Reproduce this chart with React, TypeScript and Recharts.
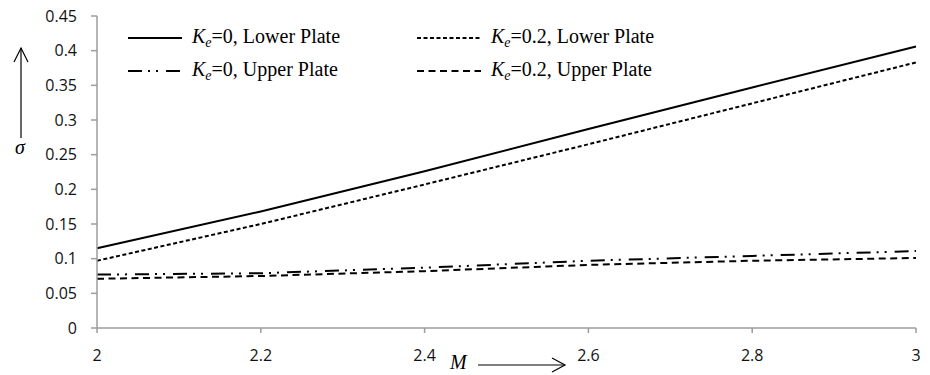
import { LineChart, Line, XAxis, YAxis, Legend } from "recharts";

// M values along the x axis
const mValues = [2, 2.2, 2.4, 2.6, 2.8, 3];

// sigma
const lowerKe0 = [0.115, 0.168, 0.226, 0.287, 0.347, 0.406];
const lowerKe02 = [0.097, 0.15, 0.207, 0.265, 0.324, 0.383];
const upperKe0 = [0.077, 0.079, 0.087, 0.097, 0.104, 0.111];
const upperKe02 = [0.071, 0.075, 0.082, 0.091, 0.097, 0.101];

const xTicks = [2, 2.2, 2.4, 2.6, 2.8, 3];
const yTicks = [0, 0.05, 0.1, 0.15, 0.2, 0.25, 0.3, 0.35, 0.4, 0.45];

const series = [
  { key: "lower0", ke: "0", plate: "Lower Plate", dash: undefined as string | undefined },
  { key: "lower02", ke: "0.2", plate: "Lower Plate", dash: "4 2.5" },
  { key: "upper0", ke: "0", plate: "Upper Plate", dash: "14 6 2 6 2 8" },
  { key: "upper02", ke: "0.2", plate: "Upper Plate", dash: "7 4.5" },
];

// legend slot per series: [left of sample line, line length, row centre]
const legendSlots: Record<string, [number, number, number]> = {
  lower0: [128, 54, 38],
  lower02: [417, 64, 38],
  upper0: [128, 54, 71],
  upper02: [417, 64, 71],
};

const axisGray = "#9c9c9c";
const tickFont = { fill: "#111", fontSize: 16, fontFamily: "Open Sans" };
const serif = "'Liberation Serif', 'Times New Roman', serif";

function LegendBox() {
  return (
    <div style={{ position: "relative", width: 930, height: 90, fontFamily: serif, fontSize: 20, color: "#000" }}>
      {series.map((s) => {
        const [left, len, cy] = legendSlots[s.key];
        return (
          <div
            key={s.key}
            style={{ position: "absolute", left, top: cy - 13, height: 26, display: "flex", alignItems: "center", whiteSpace: "nowrap" }}
          >
            <svg width={len} height={10} style={{ marginRight: 10 }}>
              <line x1={0} y1={5} x2={len} y2={5} stroke="#000" strokeWidth={2} strokeDasharray={s.dash} />
            </svg>
            <span>
              <i>K</i>
              <sub style={{ fontSize: 14, fontStyle: "italic", verticalAlign: "-4px" }}>e</sub>={s.ke}, {s.plate}
            </span>
          </div>
        );
      })}
    </div>
  );
}

export default function App() {
  const data = mValues.map((m, i) => ({
    m,
    lower0: lowerKe0[i],
    lower02: lowerKe02[i],
    upper0: upperKe0[i],
    upper02: upperKe02[i],
  }));

  return (
    <div style={{ position: "absolute", left: 0, top: 0, width: 930, height: 375, background: "#fff" }}>
      <LineChart width={930} height={375} data={data} margin={{ top: 16, right: 14, bottom: 0, left: 0 }}>
        <XAxis
          dataKey="m"
          type="number"
          domain={[2, 3]}
          ticks={xTicks}
          height={47}
          stroke={axisGray}
          strokeWidth={1.5}
          tickSize={5}
          tickMargin={17}
          tick={tickFont}
          label={{
            content: () => (
              <g>
                <text x={450} y={369} fontFamily={serif} fontStyle="italic" fontSize={20} fill="#000">
                  M
                </text>
                <line x1={478} y1={365} x2={565} y2={365} stroke="#000" strokeWidth={1.2} />
                <polyline points="552,358 565,365 552,372" fill="none" stroke="#000" strokeWidth={1.2} />
              </g>
            ),
          }}
        />
        <YAxis
          type="number"
          domain={[0, 0.45]}
          ticks={yTicks}
          width={97}
          stroke={axisGray}
          strokeWidth={1.5}
          tickSize={6}
          tickMargin={14}
          tick={tickFont}
          label={{
            content: () => (
              <g>
                <line x1={21} y1={48} x2={21} y2={138} stroke="#000" strokeWidth={1.2} />
                <polyline points="14,62 21,48 28,62" fill="none" stroke="#000" strokeWidth={1.2} />
                <text x={20} y={154} textAnchor="middle" fontFamily={serif} fontStyle="italic" fontSize={20} fill="#000">
                  σ
                </text>
              </g>
            ),
          }}
        />
        <Legend
          layout="horizontal"
          verticalAlign="middle"
          align="center"
          content={() => <LegendBox />}
          wrapperStyle={{ top: 0, left: 0, width: 930 }}
        />
        {series.map((s) => (
          <Line
            key={s.key}
            type="linear"
            dataKey={s.key}
            stroke="#000"
            strokeWidth={2}
            strokeDasharray={s.dash}
            dot={false}
            activeDot={false}
            isAnimationActive={false}
          />
        ))}
      </LineChart>
    </div>
  );
}
